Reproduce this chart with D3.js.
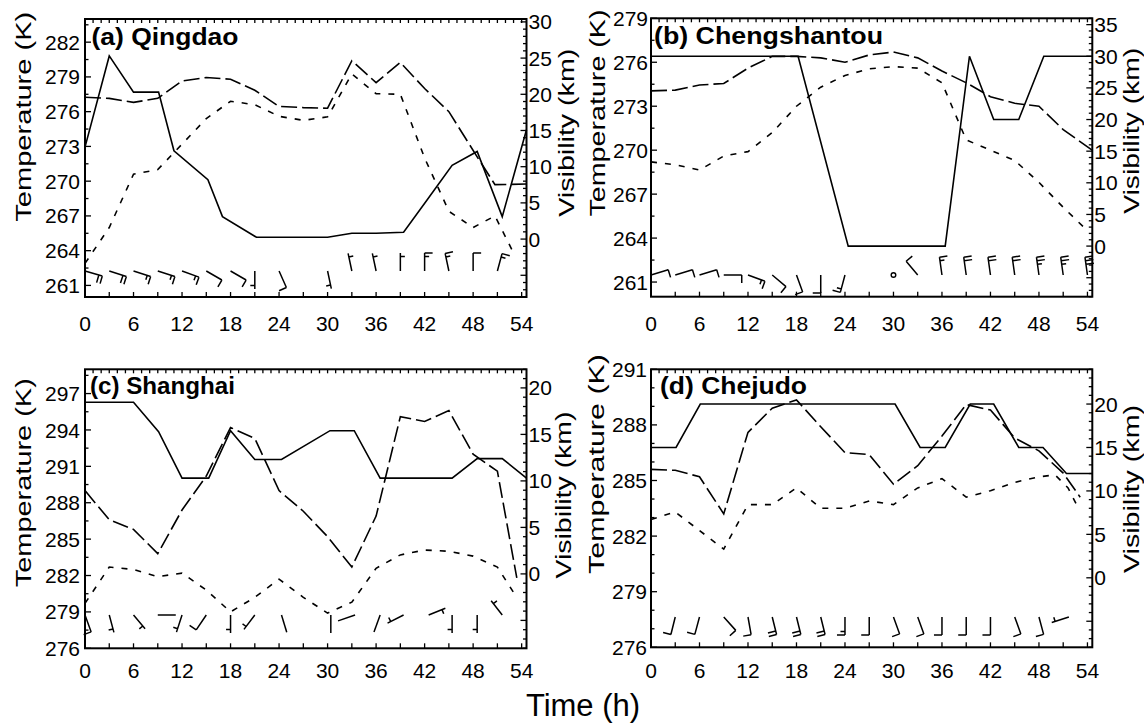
<!DOCTYPE html>
<html><head><meta charset="utf-8">
<script src="https://cdn.jsdelivr.net/npm/d3@7/dist/d3.min.js"></script>
<style>
html,body{margin:0;padding:0;background:#fff;}
svg text{font-family:"Liberation Sans",Arial,Helvetica,sans-serif;fill:#000;}
</style></head><body>
<svg id="chart" width="1144" height="726"></svg>
<script>
// ---------------- data ----------------
const hourLabels = [0,6,12,18,24,30,36,42,48,54];

// (a) Qingdao
const qdVisT  = [0,3,6,9.1,11,15.2,17,21.2,30,33,36,39.4,42.3,45.4,48.5,51.6,54.6];
const qdVis   = [12.7,25.3,20.3,20.3,12.2,8.2,3.1,0.25,0.25,0.8,0.8,0.95,5.4,10.2,12.1,3.1,15.1];
const qdTempT = [0,3,6,9,12,15,18,21,24,27,30,33,36,39,42,45,48.5,50.7,54.6];
const qdTemp  = [277.25,277.15,276.8,277.15,278.65,278.95,278.8,277.85,276.45,276.35,276.3,280.4,278.5,280.25,278.0,276.0,272.1,269.7,269.75];
const qdDewT  = [0,3,6,9,12,15,18,21,24,27,30,33,36,39,42,45,48,50.7,53];
const qdDew   = [262.9,266.0,270.6,271.0,273.2,275.4,276.9,276.6,275.6,275.25,275.55,279.25,277.55,277.5,272.0,267.4,266.0,267.0,263.8];
const qdBarbT   = [0,3,6,9,12,15,18,21,24,30,33,36,39,42,45,48,51];
const qdBarbDir = [106,108,108,108,110,120,120,180,156,168,348,348,0,0,348,0,15];
const qdBarbN   = [2,2,1.5,1.5,1.5,1,1,0.5,1,0.5,0.5,0.5,0.5,1.5,1.5,1,1.5];

// (b) Chengshantou
const csVisT  = [0,18.2,24.4,36.4,39.4,42.4,45.5,48.6,54.6];
const csVis   = [30,30,0,0,30,20,20,30,30];
const csTempT = [0,3,6,9,12,15,18,21,24,27,30,33,36,39,42,45,48,51,54.6];
const csTemp  = [274.05,274.1,274.45,274.55,275.6,276.4,276.4,276.3,276.0,276.5,276.7,276.3,275.4,274.6,273.65,273.2,273.0,271.4,270.0];
const csDewT  = [0,3,6,9,12,15,18,21,24,27,30,33,36,39,42,45,48,51,54];
const csDew   = [269.2,269.0,268.65,269.6,269.9,271.2,273.0,274.3,275.1,275.55,275.7,275.6,274.6,270.7,270.0,269.3,267.8,266.1,264.5];
const csBarbT   = [0,3,6,9,12,15,18,21,24,30,33,36,39,42,45,48,51,54];
const csBarbDir = [73,73,73,90,110,130,160,180,195,0,320,352,352,352,352,352,352,352];
const csBarbN   = [1,1,1,1,1.5,1,1,1,1.5,-1,1,1.5,2,2,2,2.5,2.5,3];

// (c) Shanghai
const shVisT  = [0,6,9.1,12,15.3,18,21,24.3,30.3,33.3,36.5,45.4,48.5,51.6,54.6];
const shVis   = [18.45,18.45,15.3,10.3,10.3,15.4,12.3,12.3,15.4,15.4,10.3,10.3,12.4,12.4,10.3];
const shTempT = [0,3,6,9,12,15,18,21,24,27,30,33,36,39,42,45,48,51,53.4];
const shTemp  = [289.0,286.6,285.8,283.8,287.4,290.2,294.2,293.3,289.0,287.3,285.2,282.7,286.9,295.1,294.7,295.6,292.0,290.6,281.8];
const shDewT  = [0,3,6,9,12,15,18,21,24,27,30,33,36,39,42,45,48,51,53];
const shDew   = [279.7,282.7,282.5,281.9,282.2,280.8,279.0,280.2,281.7,280.2,278.9,279.8,282.6,283.7,284.1,284.0,283.6,282.7,280.6];
const shBarbT   = [0,3,6,9,12,15,18,21,24.3,30.4,33.4,36.5,39.4,42.5,45.4,48.5,51.6];
const shBarbDir = [160,165,140,90,198,214,180,217,163,180,251,200,243,68,180,180,322];
const shBarbN   = [1,0.5,0.5,0,0.5,1,0.5,0.5,0,0,0,0,0.5,0.5,0.5,0.5,0.5];

// (d) Chejudo
const cjVisT  = [0,3.1,6.1,30.2,33.3,36.4,39.5,42.4,45.5,48.5,51.4,54.6];
const cjVis   = [15,15,20,20,15,15,20,20,15,15,12,12];
const cjTempT = [0,3,6,9,12,15,18,21,24,27,30,33,36,39,42,45,48,51,53.1];
const cjTemp  = [285.6,285.55,285.2,283.2,287.6,288.9,289.35,287.9,286.5,286.4,284.8,285.8,287.4,289.1,288.8,287.3,286.6,285.4,284.1];
const cjDewT  = [0,3,6,9,12,15,18,21,24,27,30,33,36,39,42,45,48,50,51.6,53];
const cjDew   = [282.9,283.3,282.3,281.3,283.7,283.7,284.6,283.5,283.5,283.9,283.7,284.6,285.1,284.1,284.45,284.9,285.2,285.3,284.6,283.4];
const cjBarbT   = [3,6,9,12,15,18,21,24,27,30,33,36,39,42,45,48,51.7];
const cjBarbDir = [194,195,138,170,166,166,166,180,180,160,160,180,180,180,160,165,252];
const cjBarbN   = [1,1,1,1,2,2,2,1.5,1,1,1,1,1,1,1,1,0.5];

// ---------------- layout ----------------
const panels = [
  {title:"(a) Qingdao", titleX:91.5, titleY:44.5, titleLen:147,
   box:[85,19,526.5,297], kDom:[260,284], kTicks:d3.range(261,283,3), kMinor:1.5,
   vDom:[-8,30.4], vTicks:[0,5,10,15,20,25,30], xLabY:331, leftLabX:80, barbOff:26,
   tLab:[23,116.7,210], vLab:[566,132.7,168],
   vis:[qdVisT,qdVis], temp:[qdTempT,qdTemp], dew:[qdDewT,qdDew], barb:[qdBarbT,qdBarbDir,qdBarbN]},
  {title:"(b) Chengshantou", titleX:654, titleY:43.5, titleLen:229,
   box:[651,18.3,1092.3,296.7], kDom:[260,279], kTicks:d3.range(261,280,3), kMinor:1.5,
   vDom:[-8,36], vTicks:[0,5,10,15,20,25,30,35], xLabY:331, leftLabX:648, barbOff:21.7,
   tLab:[597.5,113,207], vLab:[1131.5,130.8,166],
   vis:[csVisT,csVis], temp:[csTempT,csTemp], dew:[csDewT,csDew], barb:[csBarbT,csBarbDir,csBarbN]},
  {title:"(c) Shanghai", titleX:90, titleY:393.5, titleLen:145,
   box:[85,369.3,526.5,648.3], kDom:[276,299], kTicks:d3.range(276,298,3), kMinor:1.5,
   vDom:[-8,22], vTicks:[0,5,10,15,20], xLabY:678, leftLabX:80, barbOff:33.3,
   tLab:[23,482.7,209], vLab:[563.3,495,167],
   vis:[shVisT,shVis], temp:[shTempT,shTemp], dew:[shDewT,shDew], barb:[shBarbT,shBarbDir,shBarbN]},
  {title:"(d) Chejudo", titleX:660, titleY:393.5, titleLen:147,
   box:[651,369.3,1092.3,647.3], kDom:[276,291], kTicks:d3.range(276,292,3), kMinor:1,
   vDom:[-8,24], vTicks:[0,5,10,15,20], xLabY:678, leftLabX:647, barbOff:30.3,
   tLab:[596.7,464,220], vLab:[1131,489,168],
   vis:[cjVisT,cjVis], temp:[cjTempT,cjTemp], dew:[cjDewT,cjDew], barb:[cjBarbT,cjBarbDir,cjBarbN]}
];

const svg = d3.select("#chart");
const TICKFS = 21;

function alignedRange(dom, origin, step){
  const start = origin - Math.floor((origin - dom[0]) / step + 1e-6) * step;
  const out = [];
  for (let v = start; v <= dom[1] + 1e-6; v += step) out.push(+v.toFixed(4));
  return out;
}

function drawBarb(g, x0, y0, aDeg, n, L){
  if (n < 0){
    g.append("circle").attr("cx",x0).attr("cy",y0).attr("r",2.3)
     .attr("fill","none").attr("stroke","#000").attr("stroke-width",1.4);
    return;
  }
  const a = aDeg*Math.PI/180;
  const dx = Math.sin(a), dy = -Math.cos(a);
  const fx = Math.cos(a), fy = Math.sin(a);
  const tx = x0 + L*dx, ty = y0 + L*dy;
  const FL = 8, HL = 4.5, SP = 3.6;
  let p = d3.path();
  p.moveTo(x0,y0); p.lineTo(tx,ty);
  const full = Math.floor(n), half = (n - full) >= 0.5;
  let pos = 0;
  for (let i=0;i<full;i++){
    const px = tx - pos*dx, py = ty - pos*dy;
    p.moveTo(px,py); p.lineTo(px+FL*fx, py+FL*fy);
    pos += SP;
  }
  if (half){
    if (full === 0) pos = SP;
    const px = tx - pos*dx, py = ty - pos*dy;
    p.moveTo(px,py); p.lineTo(px+HL*fx, py+HL*fy);
  }
  g.append("path").attr("d",p.toString()).attr("fill","none")
   .attr("stroke","#000").attr("stroke-width",1.5).attr("stroke-linecap","butt");
}

panels.forEach(P => {
  const [L,T,R,B] = P.box;
  const x = d3.scaleLinear().domain([0,54.6]).range([L,R]);
  const yK = d3.scaleLinear().domain(P.kDom).range([B,T]);
  const yV = d3.scaleLinear().domain(P.vDom).range([B,T]);
  const g = svg.append("g");

  // ticks
  const tk = g.append("g").attr("stroke","#000").attr("stroke-width",1.3);
  // bottom every 3h
  d3.range(0,55,3).forEach(t => tk.append("line").attr("x1",x(t)).attr("x2",x(t)).attr("y1",B).attr("y2",B-5));
  // top every 1h
  d3.range(0,55,1).forEach(t => tk.append("line").attr("x1",x(t)).attr("x2",x(t)).attr("y1",T).attr("y2",T+4));
  // left
  alignedRange(P.kDom, P.kTicks[0], P.kMinor).forEach(v => {
    const major = P.kTicks.some(m => Math.abs(m-v)<1e-6);
    tk.append("line").attr("x1",L).attr("x2",L+(major?6:3.5)).attr("y1",yK(v)).attr("y2",yK(v));
  });
  // right
  alignedRange(P.vDom, 0, 1).forEach(v => {
    const major = Math.abs(v % 5) < 1e-6;
    tk.append("line").attr("x1",R).attr("x2",R-(major?6:3.5)).attr("y1",yV(v)).attr("y2",yV(v));
  });

  // frame
  g.append("rect").attr("x",L).attr("y",T).attr("width",R-L).attr("height",B-T)
   .attr("fill","none").attr("stroke","#000").attr("stroke-width",2);

  // tick labels
  hourLabels.forEach(t => g.append("text").attr("x",x(t)).attr("y",P.xLabY)
     .attr("text-anchor","middle").attr("font-size",TICKFS).text(t));
  P.kTicks.forEach(v => g.append("text").attr("x",P.leftLabX).attr("y",yK(v))
     .attr("dy","0.36em").attr("text-anchor","end").attr("font-size",TICKFS).text(v));
  P.vTicks.forEach(v => g.append("text").attr("x",R+2).attr("y",yV(v))
     .attr("dy","0.36em").attr("text-anchor","start").attr("font-size",TICKFS).text(v));

  // axis titles
  g.append("text").attr("transform",`translate(${P.tLab[0]},${P.tLab[1]}) rotate(-90)`)
   .attr("text-anchor","middle").attr("dominant-baseline","central").attr("font-size",22)
   .attr("textLength",P.tLab[2]).attr("lengthAdjust","spacingAndGlyphs").text("Temperature (K)");
  g.append("text").attr("transform",`translate(${P.vLab[0]},${P.vLab[1]}) rotate(-90)`)
   .attr("text-anchor","middle").attr("dominant-baseline","central").attr("font-size",22)
   .attr("textLength",P.vLab[2]).attr("lengthAdjust","spacingAndGlyphs").text("Visibility (km)");

  // panel title
  g.append("text").attr("x",P.titleX).attr("y",P.titleY).attr("font-size",23)
   .attr("font-weight","bold").attr("textLength",P.titleLen).attr("lengthAdjust","spacingAndGlyphs")
   .text(P.title);

  // series
  const lineK = d3.line().x(d=>x(d[0])).y(d=>yK(d[1]));
  const lineV = d3.line().x(d=>x(d[0])).y(d=>yV(d[1]));
  g.append("path").attr("d",lineV(d3.zip(P.vis[0],P.vis[1])))
   .attr("fill","none").attr("stroke","#000").attr("stroke-width",1.6);
  g.append("path").attr("d",lineK(d3.zip(P.temp[0],P.temp[1])))
   .attr("fill","none").attr("stroke","#000").attr("stroke-width",1.6).attr("stroke-dasharray","16,5");
  g.append("path").attr("d",lineK(d3.zip(P.dew[0],P.dew[1])))
   .attr("fill","none").attr("stroke","#000").attr("stroke-width",1.6).attr("stroke-dasharray","6,8");

  // wind barbs
  const bg = g.append("g");
  const by = B - P.barbOff;
  P.barb[0].forEach((t,i) => drawBarb(bg, x(t), by, P.barb[1][i], P.barb[2][i], 18));
});

svg.append("text").attr("x",583).attr("y",716).attr("text-anchor","middle")
   .attr("font-size",31).text("Time (h)");
</script>
</body></html>
